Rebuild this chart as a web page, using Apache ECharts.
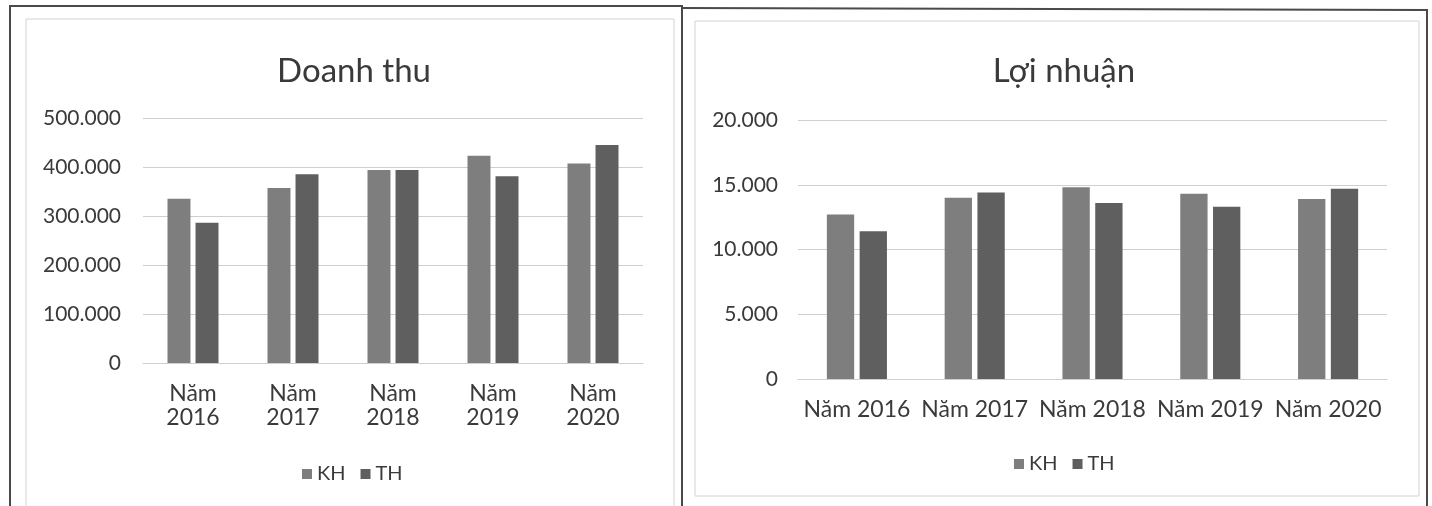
<!DOCTYPE html>
<html>
<head>
<meta charset="utf-8">
<script src="https://cdn.jsdelivr.net/npm/echarts@6/dist/echarts.min.js"></script>
<style>
html,body{margin:0;padding:0;background:#fff;}
#c{width:1432px;height:506px;}
</style>
</head>
<body>
<div id="c"></div>
<script>
const years = ['Năm 2016', 'Năm 2017', 'Năm 2018', 'Năm 2019', 'Năm 2020'];
const seriesNames = ['KH', 'TH'];
const revenueKH = [335000, 357000, 394000, 423000, 407000];
const revenueTH = [286000, 385000, 394000, 381000, 445000];
const profitKH = [12700, 14000, 14800, 14300, 13900];
const profitTH = [11400, 14400, 13600, 13300, 14700];
const titles = ['Doanh thu', 'Lợi nhuận'];

const FONT = 'Lato';
const TXT = '#3a3a3a';
const colKH = '#7e7e7e';
const colTH = '#5f5f5f';
const fmt = v => String(v).replace(/\B(?=(\d{3})+(?!\d))/g, '.');

const chart = echarts.init(document.getElementById('c'));
const axisCommon = {
  axisLine: {show: false}, axisTick: {show: false},
  splitLine: {lineStyle: {color: '#cfcfcf', width: 1}},
  axisLabel: {color: TXT, fontFamily: FONT, fontSize: 21, formatter: fmt}
};
const legendText = {fontFamily: FONT, fontSize: 20, color: TXT};
chart.setOption({
  animation: false,
  color: [colKH, colTH],
  graphic: [
    {type: 'polyline', shape: {points: [[10, 506], [10, 6], [682, 6], [682, 506]]}, style: {stroke: '#4a4a4a', lineWidth: 2, fill: null}},
    {type: 'polyline', shape: {points: [[682, 8], [1427, 10], [1427, 506]]}, style: {stroke: '#4a4a4a', lineWidth: 2, fill: null}},
    {type: 'rect', shape: {x: 26, y: 19, width: 648, height: 490}, style: {stroke: '#d2d2d2', lineWidth: 1, fill: null}},
    {type: 'rect', shape: {x: 695, y: 21, width: 724, height: 475}, style: {stroke: '#d2d2d2', lineWidth: 1, fill: null}}
  ],
  title: [
    {text: titles[0], left: 349, top: 50, textAlign: 'center', textStyle: {fontFamily: FONT, fontSize: 33, fontWeight: 'normal', color: TXT}},
    {text: titles[1], left: 1059, top: 50, textAlign: 'center', textStyle: {fontFamily: FONT, fontSize: 33, fontWeight: 'normal', color: TXT}}
  ],
  legend: [
    {data: seriesNames, left: 297, top: 459, itemWidth: 10, itemHeight: 10, itemGap: 15, icon: 'rect', textStyle: legendText},
    {data: seriesNames, left: 1009, top: 449, itemWidth: 10, itemHeight: 10, itemGap: 15, icon: 'rect', textStyle: legendText}
  ],
  grid: [
    {left: 143, width: 500, top: 118, height: 245},
    {left: 798, width: 589, top: 120, height: 259}
  ],
  xAxis: [
    {type: 'category', gridIndex: 0, data: years,
     axisLine: {show: true, lineStyle: {color: '#cfcfcf'}}, axisTick: {show: false},
     axisLabel: {color: TXT, fontFamily: FONT, fontSize: 23, lineHeight: 24, margin: 19, interval: 0,
                 formatter: v => v.replace(' ', '\n')}},
    {type: 'category', gridIndex: 1, data: years,
     axisLine: {show: true, lineStyle: {color: '#cfcfcf'}}, axisTick: {show: false},
     axisLabel: {color: TXT, fontFamily: FONT, fontSize: 23, margin: 19, interval: 0}}
  ],
  yAxis: [
    Object.assign({type: 'value', gridIndex: 0, min: 0, max: 500000, interval: 100000}, axisCommon,
      {axisLabel: Object.assign({}, axisCommon.axisLabel, {margin: 22})}),
    Object.assign({type: 'value', gridIndex: 1, min: 0, max: 20000, interval: 5000}, axisCommon,
      {axisLabel: Object.assign({}, axisCommon.axisLabel, {margin: 20})})
  ],
  series: [
    {name: 'KH', type: 'bar', xAxisIndex: 0, yAxisIndex: 0, data: revenueKH, barCategoryGap: '49%', barGap: '22%', itemStyle: {color: colKH}},
    {name: 'TH', type: 'bar', xAxisIndex: 0, yAxisIndex: 0, data: revenueTH, barCategoryGap: '49%', barGap: '22%', itemStyle: {color: colTH}},
    {name: 'KH', type: 'bar', xAxisIndex: 1, yAxisIndex: 1, data: profitKH, barCategoryGap: '49%', barGap: '20%', itemStyle: {color: colKH}},
    {name: 'TH', type: 'bar', xAxisIndex: 1, yAxisIndex: 1, data: profitTH, barCategoryGap: '49%', barGap: '20%', itemStyle: {color: colTH}}
  ]
});
</script>
</body>
</html>
